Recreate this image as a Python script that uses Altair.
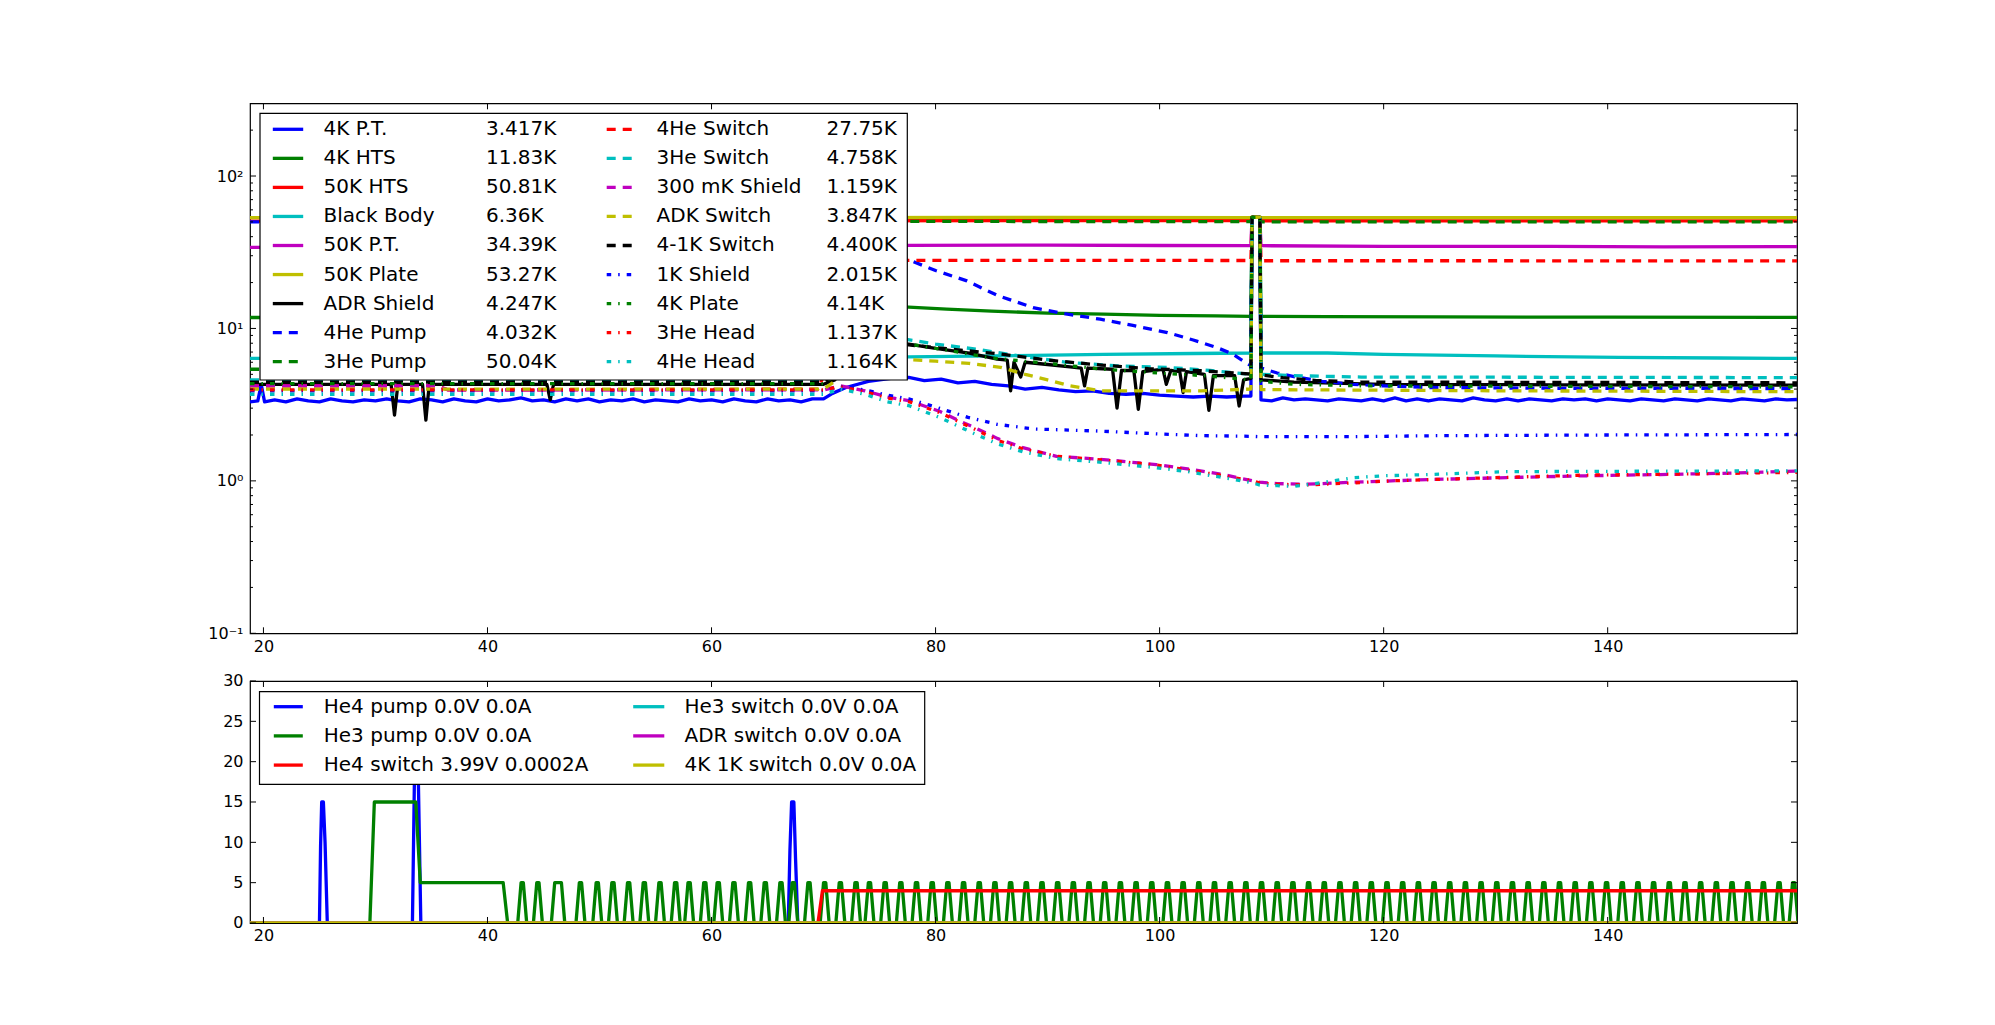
import altair as alt
import pandas as pd

# ---------------- axes / ticks ----------------
X_DOMAIN = [18.8, 156.9]
X_TICKS = [20, 40, 60, 80, 100, 120, 140]
TOP_Y_DOMAIN = [0.1, 300]
TOP_Y_MAJOR = [0.1, 1, 10, 100]
TOP_Y_MINOR = [0.2, 0.3, 0.4, 0.5, 0.6, 0.7, 0.8, 0.9, 2, 3, 4, 5, 6, 7, 8, 9,
               20, 30, 40, 50, 60, 70, 80, 90, 200]
BOT_Y_DOMAIN = [0, 30]
BOT_Y_TICKS = [0, 5, 10, 15, 20, 25, 30]

# ---------------- top panel: temperatures (t, K) ----------------
pt4k = [(18.8,3.3),(19.5,3.35),(19.8,4.3),(20.1,3.3),(21,3.4),(22,3.3),(23,3.45),(24,3.35),(25,3.3),(26,3.45),(27,3.35),(28,3.3),(29,3.4),(30,3.35),(31,3.45),(32,3.35),(33,3.3),(34,3.45),(35,3.4),(36,3.3),(37,3.45),(38,3.35),(39,3.3),(40,3.45),(41,3.35),(42,3.4),(43,3.5),(44,3.35),(45,3.4),(46,3.3),(47,3.45),(48,3.35),(49,3.45),(50,3.3),(51,3.4),(52,3.35),(53,3.45),(54,3.3),(55,3.4),(56,3.35),(57,3.3),(58,3.45),(59,3.35),(60,3.4),(61,3.3),(62,3.45),(63,3.35),(64,3.3),(65,3.45),(66,3.35),(67,3.4),(68,3.3),(69,3.45),(70,3.45),(70.8,3.75),(72,4.1),(74,4.5),(76,4.7),(77.6,4.77),(79,4.55),(80.5,4.65),(82,4.4),(83.5,4.5),(85,4.3),(86.5,4.2),(88,4.0),(89.5,4.1),(91,3.95),(92.5,3.85),(94,3.9),(95.5,3.75),(97,3.7),(98.5,3.75),(100,3.65),(101.5,3.6),(103,3.55),(104.5,3.6),(106,3.55),(107.5,3.6),(108.15,3.6),(108.25,53.5),(108.95,53.5),(109.05,3.4),(110,3.35),(111,3.5),(112,3.4),(113,3.45),(114,3.4),(115,3.35),(116,3.45),(117,3.4),(118,3.35),(119,3.45),(120,3.35),(121,3.5),(122,3.35),(123,3.45),(124,3.35),(125,3.45),(126,3.4),(127,3.35),(128,3.5),(129,3.4),(130,3.35),(131,3.45),(132,3.35),(133,3.45),(134,3.4),(135,3.35),(136,3.45),(137,3.4),(138,3.45),(139,3.35),(140,3.45),(141,3.4),(142,3.35),(143,3.45),(144,3.4),(145,3.35),(146,3.45),(147,3.4),(148,3.35),(149,3.45),(150,3.4),(151,3.35),(152,3.45),(153,3.4),(154,3.35),(155,3.45),(156,3.4),(156.9,3.42)]
hts4k = [(18.8,11.8),(40,11.8),(70,11.8),(71.5,12.8),(73,13.8),(75,14.1),(77.6,13.8),(81,13.4),(85,13.0),(90,12.6),(95,12.4),(100,12.2),(105,12.1),(108.15,12.0),(108.25,53.5),(108.95,53.5),(109.05,12.0),(115,11.95),(125,11.9),(140,11.85),(156.9,11.83)]
hts50k = [(18.8,50.6),(40,50.8),(70,50.9),(90,51.0),(108.15,51.0),(108.25,53.5),(108.95,53.5),(109.05,50.9),(130,50.85),(156.9,50.81)]
black_body = [(18.8,6.36),(40,6.4),(70,6.45),(74,6.6),(77.6,6.5),(85,6.6),(95,6.75),(103,6.85),(108.15,6.9),(108.25,53.5),(108.95,53.5),(109.05,6.9),(115,6.9),(120,6.75),(130,6.6),(141,6.46),(150,6.4),(156.9,6.36)]
pt50k = [(18.8,34.0),(30,34.3),(45,34.6),(60,34.8),(77.6,35.1),(90,35.2),(100,35.0),(108.15,34.9),(108.25,53.5),(108.95,53.5),(109.05,34.9),(120,34.6),(135,34.5),(145,34.3),(156.9,34.39)]
plate50k = [(18.8,53.3),(60,53.4),(90,53.5),(108.15,53.4),(108.25,54.0),(108.95,54.0),(109.05,53.4),(130,53.3),(156.9,53.27)]
adr_shield = [(18.8,4.3),(25,4.3),(31.4,4.3),(31.7,2.7),(32.0,4.3),(34.2,4.3),(34.5,2.5),(34.8,4.3),(45.3,4.3),(45.6,3.4),(45.9,4.3),(60,4.3),(70,4.3),(71,4.6),(73,7.0),(75,8.3),(77.6,7.9),(80,7.4),(83,6.9),(85.5,6.3),(86.4,6.2),(86.7,3.9),(87.0,6.0),(87.6,4.8),(88.0,6.0),(90,5.8),(92,5.6),(93.0,5.5),(93.3,4.2),(93.6,5.5),(95.8,5.4),(96.2,3.0),(96.6,5.3),(97.7,5.3),(98.1,2.95),(98.5,5.2),(100.3,5.4),(100.6,4.3),(101,5.3),(101.8,5.2),(102.1,3.8),(102.4,5.2),(104.0,5.0),(104.4,2.9),(104.8,4.9),(106.7,4.9),(107.1,3.1),(107.5,4.6),(108.15,4.7),(108.25,53.5),(108.95,53.5),(109.05,4.6),(112,4.45),(120,4.3),(135,4.27),(156.9,4.247)]
he4_pump = [(18.8,50),(40,50.5),(67,50.5),(69,51),(70.5,48),(72,42),(74,36),(76,31),(77.7,28),(80,24),(82.8,20.5),(85.5,16.5),(88.7,13.7),(91.5,12.5),(94.7,11.5),(97.5,10.5),(100.7,9.4),(103,8.4),(105.1,7.5),(106.5,6.8),(107.8,5.9),(108.15,5.7),(108.25,53.5),(108.95,53.5),(109.05,5.5),(110.5,5.1),(112.2,4.8),(114.5,4.5),(117.3,4.3),(120,4.2),(124,4.1),(135,4.05),(156.9,4.032)]
he3_pump = [(18.8,5.4),(29.5,5.4),(30.5,12),(31.5,25),(32.5,38),(33.5,47),(34.5,50),(41.5,50.5),(70,50.5),(90,50.3),(108.15,50.2),(108.25,53.5),(108.95,53.5),(109.05,50.1),(130,50.1),(156.9,50.04)]
he4_switch = [(18.8,4.2),(35.5,4.2),(36.5,3.95),(69.5,4.0),(70.5,6),(71.5,12),(72.5,19),(73.5,24),(75,27),(76.5,28),(90,28),(108.15,27.9),(108.25,53.5),(108.95,53.5),(109.05,27.8),(130,27.8),(156.9,27.75)]
he3_switch = [(18.8,4.6),(70,4.6),(71,5.2),(72.5,7.5),(74,8.8),(76.4,8.7),(80,7.9),(83.7,7.3),(87.5,6.6),(91.7,6.0),(96,5.7),(100.7,5.55),(104.5,5.3),(108.15,5.0),(108.25,53.5),(108.95,53.5),(109.05,5.0),(112,4.9),(118,4.8),(156.9,4.758)]
shield_300mk = [(18.8,4.2),(35.5,4.2),(36.5,3.95),(70,3.95),(71.5,4.2),(73.7,3.9),(75.7,3.55),(77.7,3.35),(80.4,2.85),(82,2.5),(83.4,2.25),(85.5,1.9),(87.8,1.65),(90.8,1.45),(95,1.38),(99.7,1.28),(102.5,1.2),(105.7,1.1),(108.3,1.0),(108.9,0.98),(110.5,0.96),(113,0.95),(117.3,0.98),(124,1.02),(131,1.05),(138,1.08),(144.7,1.1),(150,1.12),(156.9,1.159)]
adk_switch = [(18.8,4.0),(70,4.0),(71,4.5),(73,5.8),(75,6.3),(77.6,6.24),(80,6.1),(83,5.9),(85.8,5.56),(88,5.0),(90,4.6),(92,4.2),(94.8,3.9),(100,3.9),(103.7,3.9),(108.15,4.0),(108.25,53.5),(108.95,53.5),(109.05,3.97),(115,3.95),(130,3.9),(156.9,3.847)]
switch_41k = [(18.8,4.45),(70,4.45),(71,5.0),(72.5,7.0),(74.5,8.2),(77.6,7.8),(81.5,7.3),(85.8,6.8),(90,6.2),(94.8,5.75),(99,5.45),(103.7,5.28),(108.15,5.02),(108.25,53.5),(108.95,53.5),(109.05,4.95),(111,4.75),(114,4.55),(118,4.45),(156.9,4.40)]
shield_1k = [(18.8,3.9),(70,3.9),(71.5,4.15),(73.7,3.95),(75.7,3.65),(77.6,3.45),(80,3.05),(82.9,2.61),(85.5,2.35),(88.8,2.19),(94.8,2.12),(100,2.03),(103.7,1.98),(108.3,1.96),(108.9,1.95),(117,1.95),(125,1.98),(140,2.0),(156.9,2.015)]
plate4k = [(18.8,4.35),(70,4.35),(71,4.9),(72.5,6.8),(74.5,8.0),(77.6,7.9),(81,7.2),(85,6.4),(90,5.9),(95,5.4),(100,5.1),(104,4.9),(108.15,4.6),(108.25,53.5),(108.95,53.5),(109.05,4.5),(112,4.3),(118,4.2),(156.9,4.14)]
he3_head = [(18.8,3.95),(70,3.95),(71.5,4.15),(73.7,3.85),(75.7,3.5),(77.7,3.3),(80.4,2.8),(83.4,2.2),(85.5,1.85),(87.8,1.62),(90.8,1.45),(95,1.37),(99.7,1.27),(102.5,1.18),(105.7,1.08),(108.3,1.0),(108.9,0.97),(110.5,0.95),(113,0.94),(117.3,0.97),(120.6,1.0),(128,1.04),(137.8,1.09),(147,1.11),(156.9,1.137)]
he4_head = [(18.8,3.7),(70,3.7),(71.5,4.0),(73.7,3.7),(75.7,3.3),(77.7,3.1),(80.4,2.6),(83.4,2.05),(85.5,1.75),(87.8,1.55),(90.8,1.4),(95,1.32),(99.7,1.22),(102.5,1.15),(105.7,1.05),(108.3,0.97),(108.9,0.94),(110.5,0.93),(112,0.92),(113.8,0.957),(117.3,1.05),(120,1.08),(124,1.1),(131,1.15),(156.9,1.164)]

TOP_SERIES = [pt4k, hts4k, hts50k, black_body, pt50k, plate50k, adr_shield,
              he4_pump, he3_pump, he4_switch, he3_switch, shield_300mk, adk_switch,
              switch_41k, shield_1k, plate4k, he3_head, he4_head]
TOP_NAMES = ["4K P.T.", "4K HTS", "50K HTS", "Black Body", "50K P.T.", "50K Plate",
             "ADR Shield", "4He Pump", "3He Pump", "4He Switch", "3He Switch",
             "300 mK Shield", "ADK Switch", "4-1K Switch", "1K Shield", "4K Plate",
             "3He Head", "4He Head"]
TOP_VALUES = ["3.417K", "11.83K", "50.81K", "6.36K", "34.39K", "53.27K", "4.247K",
              "4.032K", "50.04K", "27.75K", "4.758K", "1.159K", "3.847K", "4.400K",
              "2.015K", "4.14K", "1.137K", "1.164K"]
TOP_COLORS = ["#0000ff", "#008000", "#ff0000", "#00bfbf", "#bf00bf", "#bfbf00", "#000000",
              "#0000ff", "#008000", "#ff0000", "#00bfbf", "#bf00bf", "#bfbf00", "#000000",
              "#0000ff", "#008000", "#ff0000", "#00bfbf"]
TOP_STYLES = ["solid"] * 7 + ["dashed"] * 7 + ["dashdot"] * 4

# ---------------- bottom panel: heaters (t, V) ----------------
he4_pump_v = [(18.8,0),(25.0,0),(25.1,9.5),(25.2,15),(25.35,15),(25.5,10),(25.7,0),(33.3,0),(33.5,20),(33.8,20),(34.05,0),(66.85,0),(67.0,9),(67.15,15),(67.35,15),(67.5,8),(67.7,0),(156.9,0)]
he3_pump_v_start = [(18.8,0),(29.5,0),(29.9,15),(33.6,15),(34.0,5),(41.4,5),(41.8,0)]
he3_pump_pulses = [(42.7,43.5),(44.1,44.9),(45.7,46.9),(47.9,48.7),(49.4,50.2),(50.8,51.6),(52.2,53.0),(53.6,54.4),(55.0,55.8),(56.4,57.2),(57.6,58.4),(59.0,59.8),(60.2,61.0),(61.6,62.4),(63.0,63.8),(64.4,65.2),(65.8,66.6),(66.9,67.7),(68.3,69.1),(69.7,70.5),(71.1,71.9),(72.5,73.3),(73.7,74.5),(75.1,75.9),(76.5,77.3),(77.9,78.7),(79.3,80.1),(80.7,81.5),(82.1,82.9),(83.5,84.3),(84.9,85.7),(86.3,87.1),(87.7,88.5),(89.1,89.9),(90.5,91.3),(91.9,92.7),(93.3,94.1),(94.7,95.5),(96.1,96.9),(97.5,98.3),(98.9,99.7),(100.3,101.1),(101.7,102.5),(103.1,103.9),(104.5,105.3),(105.9,106.7),(107.3,108.1),(108.7,109.5),(110.1,110.9),(111.5,112.3),(112.9,113.7),(114.3,115.1),(115.7,116.5),(117.1,117.9),(118.5,119.3),(119.9,120.7),(121.3,122.1),(122.7,123.5),(124.1,124.9),(125.5,126.3),(126.9,127.7),(128.3,129.1),(129.7,130.5),(131.1,131.9),(132.5,133.3),(133.9,134.7),(135.3,136.1),(136.7,137.5),(138.1,138.9),(139.5,140.3),(140.9,141.7),(142.3,143.1),(143.7,144.5),(145.1,145.9),(146.5,147.3),(147.9,148.7),(149.3,150.1),(150.7,151.5),(152.1,152.9),(153.5,154.3),(154.9,155.7),(156.2,157.0)]
HE3_PULSE_LEVEL = 5
HE3_PULSE_RAMP = 0.3
he4_switch_v = [(18.8,0),(69.5,0),(69.9,4.0),(156.9,4.0)]
he3_switch_v = [(18.8,0),(156.9,0)]
adr_switch_v = [(18.8,0),(156.9,0)]
switch_4k1k_v = [(18.8,0),(156.9,0)]

BOT_NAMES = ["He4 pump 0.0V 0.0A", "He3 pump 0.0V 0.0A", "He4 switch 3.99V 0.0002A",
             "He3 switch 0.0V 0.0A", "ADR switch 0.0V 0.0A", "4K 1K switch 0.0V 0.0A"]
BOT_COLORS = ["#0000ff", "#008000", "#ff0000", "#00bfbf", "#bf00bf", "#bfbf00"]

# ---------------- styling / layout ----------------
W = 1547
H_TOP = 530
H_BOT = 242
FONT = "DejaVu Sans"
LEG_FS = 20
TICK_FS = 16
DASHES = {"solid": None, "dashed": [9, 7], "dashdot": [4.5, 7, 1.5, 7]}
LW = 3.3
MAJOR_LEN = 6
MINOR_LEN = 3

xscale = alt.Scale(domain=X_DOMAIN, nice=False, zero=False)
yscale_top = alt.Scale(type="log", domain=TOP_Y_DOMAIN, nice=False)
yscale_bot = alt.Scale(domain=BOT_Y_DOMAIN, nice=False, zero=False)

x_axis = alt.Axis(values=X_TICKS, ticks=False, domain=False, grid=False, title=None,
                  labelFont=FONT, labelFontSize=TICK_FS, labelColor="black", labelPadding=5,
                  labelFlush=False, labelOverlap=False)
y_axis_top = alt.Axis(values=TOP_Y_MAJOR, ticks=False, domain=False, grid=False, title=None,
                      labelFont=FONT, labelFontSize=TICK_FS, labelColor="black", labelPadding=7,
                      labelFlush=False, labelOverlap=False,
                      labelExpr="datum.value < 0.5 ? '10\u207b\u00b9' : datum.value < 5 ? '10\u2070' : datum.value < 50 ? '10\u00b9' : '10\u00b2'")
y_axis_bot = alt.Axis(values=BOT_Y_TICKS, ticks=False, domain=False, grid=False, title=None,
                      labelFont=FONT, labelFontSize=TICK_FS, labelColor="black", labelPadding=7,
                      labelFlush=False, labelOverlap=False)

ONE = pd.DataFrame({"k": [0]})


def line_layer(pts, color, style, yscale, axes=None):
    df = pd.DataFrame(pts, columns=["t", "v"])
    kw = dict(color=color, strokeWidth=LW, clip=True, strokeCap="butt", strokeJoin="round")
    if DASHES[style]:
        kw["strokeDash"] = DASHES[style]
    return alt.Chart(df).mark_line(**kw).encode(
        x=alt.X("t:Q", scale=xscale, axis=axes[0] if axes else None),
        y=alt.Y("v:Q", scale=yscale, axis=axes[1] if axes else None),
    )


def tick_layers(yvals_major, yvals_minor, yscale, H):
    layers = []
    for vals, ln in ((yvals_major, MAJOR_LEN), (yvals_minor, MINOR_LEN)):
        if not vals:
            continue
        df = pd.DataFrame({"tv": vals})
        base = alt.Chart(df).mark_rule(color="black", strokeWidth=1)
        layers.append(base.encode(y=alt.Y("tv:Q", scale=yscale, axis=None),
                                  x=alt.value(0), x2=alt.value(ln)))
        layers.append(base.encode(y=alt.Y("tv:Q", scale=yscale, axis=None),
                                  x=alt.value(W - ln), x2=alt.value(W)))
    dfx = pd.DataFrame({"tx": X_TICKS})
    basex = alt.Chart(dfx).mark_rule(color="black", strokeWidth=1)
    layers.append(basex.encode(x=alt.X("tx:Q", scale=xscale, axis=None),
                               y=alt.value(H), y2=alt.value(H - MAJOR_LEN)))
    layers.append(basex.encode(x=alt.X("tx:Q", scale=xscale, axis=None),
                               y=alt.value(0), y2=alt.value(MAJOR_LEN)))
    return layers


def legend_box(x0, x1, y0, y1):
    return alt.Chart(ONE).mark_rect(fill="white", stroke="black", strokeWidth=1.2).encode(
        x=alt.value(x0), x2=alt.value(x1), y=alt.value(y0), y2=alt.value(y1))


def legend_sample(x0, x1, y, color, style):
    kw = dict(color=color, strokeWidth=LW, strokeCap="butt")
    if DASHES[style]:
        kw["strokeDash"] = DASHES[style]
    return alt.Chart(ONE).mark_rule(**kw).encode(x=alt.value(x0), x2=alt.value(x1), y=alt.value(y))


def legend_text(x, y, label):
    return alt.Chart(ONE).mark_text(align="left", baseline="middle", font=FONT, fontSize=LEG_FS,
                                    color="black", text=label).encode(x=alt.value(x), y=alt.value(y))


# ---------------- top chart ----------------
top_layers = []
for i, pts in enumerate(TOP_SERIES):
    top_layers.append(line_layer(pts, TOP_COLORS[i], TOP_STYLES[i], yscale_top,
                                 axes=(x_axis, y_axis_top) if i == 0 else None))
top_layers += tick_layers(TOP_Y_MAJOR, TOP_Y_MINOR, yscale_top, H_TOP)
top_layers.append(legend_box(10, 657.3, 10, 276.7))
ROW0, DROW = 26, 29.05
for i, name in enumerate(TOP_NAMES):
    col, row = divmod(i, 9)
    y = ROW0 + row * DROW
    if col == 0:
        lx0, lx1, tx, vx = 22.8, 53.2, 73.6, 236.0
    else:
        lx0, lx1, tx, vx = 356.7, 387.1, 406.6, 576.6
    top_layers.append(legend_sample(lx0, lx1, y, TOP_COLORS[i], TOP_STYLES[i]))
    top_layers.append(legend_text(tx, y, name))
    top_layers.append(legend_text(vx, y, TOP_VALUES[i]))

top = alt.layer(*top_layers).properties(width=W, height=H_TOP).resolve_axis(
    x="independent", y="independent")

# ---------------- bottom chart ----------------
he3_pump_v = list(he3_pump_v_start)
for on, off in he3_pump_pulses:
    he3_pump_v += [(on, 0), (on + HE3_PULSE_RAMP, HE3_PULSE_LEVEL),
                   (off - HE3_PULSE_RAMP, HE3_PULSE_LEVEL), (off, 0)]

BOT_SERIES = [he4_pump_v, he3_pump_v, he4_switch_v, he3_switch_v, adr_switch_v, switch_4k1k_v]
bot_layers = []
for i, pts in enumerate(BOT_SERIES):
    bot_layers.append(line_layer(pts, BOT_COLORS[i], "solid", yscale_bot,
                                 axes=(x_axis, y_axis_bot) if i == 0 else None))
bot_layers += tick_layers(BOT_Y_TICKS, [], yscale_bot, H_BOT)
bot_layers.append(legend_box(9.5, 674.7, 10.7, 103.3))
BROW0, BDROW = 25.7, 29.2
for i, name in enumerate(BOT_NAMES):
    col, row = divmod(i, 3)
    y = BROW0 + row * BDROW
    if col == 0:
        lx0, lx1, tx = 23.8, 52.8, 73.8
    else:
        lx0, lx1, tx = 383.2, 414.3, 434.5
    bot_layers.append(legend_sample(lx0, lx1, y, BOT_COLORS[i], "solid"))
    bot_layers.append(legend_text(tx, y, name))

bottom = alt.layer(*bot_layers).properties(width=W, height=H_BOT).resolve_axis(
    x="independent", y="independent")

chart = alt.vconcat(top, bottom, spacing=47.7, bounds="flush").properties(
    padding={"left": 199, "top": 93.3, "right": 5, "bottom": 5},
    background="white",
).configure_view(stroke="black", strokeWidth=1.2)

chart.save("out.html", embed_options={"renderer": "svg", "actions": False})
